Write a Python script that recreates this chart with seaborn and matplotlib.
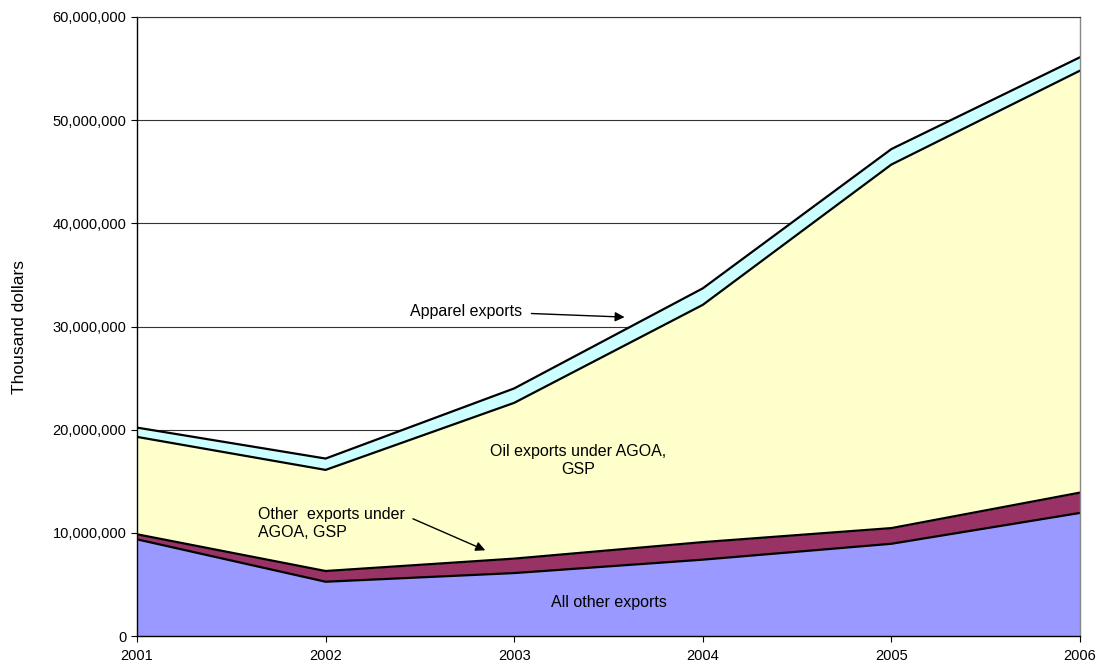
import numpy as np
import pandas as pd
import matplotlib
matplotlib.use("Agg")
import matplotlib.pyplot as plt
import seaborn as sns
from matplotlib.ticker import FuncFormatter

# data (thousand dollars)
years = [2001, 2002, 2003, 2004, 2005, 2006]
all_other = [9370000, 5260000, 6100000, 7400000, 8940000, 11930000]
other_agoa = [490000, 1040000, 1400000, 1700000, 1520000, 1970000]
oil_agoa = [9440000, 9800000, 15100000, 23000000, 35240000, 40900000]
apparel = [900000, 1100000, 1400000, 1600000, 1500000, 1300000]

series_names = ["All other exports", "Other exports under AGOA, GSP",
                "Oil exports under AGOA, GSP", "Apparel exports"]
colors = ["#9999FF", "#993366", "#FFFFCC", "#CCFFFF"]

sns.set_theme(style="white")
plt.rcParams["font.family"] = ["Liberation Sans", "DejaVu Sans"]
plt.rcParams["text.color"] = "black"
plt.rcParams["axes.labelcolor"] = "black"

df = pd.DataFrame({"year": years, series_names[0]: all_other, series_names[1]: other_agoa,
                   series_names[2]: oil_agoa, series_names[3]: apparel})
cum = df[series_names].cumsum(axis=1)

fig = plt.figure(figsize=(11.01, 6.69), dpi=100)
ax = fig.add_axes([137 / 1101, 1 - 636 / 669, (1080 - 137) / 1101, (636 - 17) / 669])

# grid behind the areas
for v in range(10000000, 60000001, 10000000):
    ax.axhline(v, color="#333333", lw=0.8, zorder=0)

lower = np.zeros(len(years))
for name, c in zip(series_names, colors):
    upper = cum[name].values
    ax.fill_between(years, lower, upper, color=c, lw=0, zorder=1)
    lower = upper

long = cum.assign(year=years).melt(id_vars="year", var_name="series", value_name="top")
sns.lineplot(data=long, x="year", y="top", units="series", estimator=None,
             color="black", lw=1.6, ax=ax, zorder=2, legend=False)

ax.set_xlim(2001, 2006)
ax.set_ylim(0, 60000000)
ax.set_xticks(years)
ax.set_yticks(range(0, 60000001, 10000000))
ax.yaxis.set_major_formatter(FuncFormatter(lambda v, p: f"{int(v):,}"))
ax.tick_params(axis="both", labelsize=10.5, colors="black", length=4, width=0.8,
               direction="out", left=True, bottom=True)
ax.tick_params(axis="x", pad=5)
ax.set_xlabel("")
ax.set_ylabel("Thousand dollars", fontsize=12.5)
ax.yaxis.set_label_coords(-0.117, 0.5)

for s in ["left", "bottom"]:
    ax.spines[s].set_color("black")
    ax.spines[s].set_linewidth(1)
ax.spines["right"].set_color("#888888")
ax.spines["right"].set_linewidth(1)
ax.spines["top"].set_color("#333333")
ax.spines["top"].set_linewidth(0.8)
for sp in ax.spines.values():
    sp.set_zorder(3)

fs = 11.5
ax.annotate("Apparel exports", xy=(2003.6, 30900000), xytext=(2002.45, 31500000),
            fontsize=fs, ha="left", va="center",
            arrowprops=dict(arrowstyle="-|>", color="black", lw=1, mutation_scale=14, shrinkA=4))
ax.annotate("Other  exports under\nAGOA, GSP", xy=(2002.86, 8200000), xytext=(2001.64, 10900000),
            fontsize=fs, ha="left", va="center", linespacing=1.3,
            arrowprops=dict(arrowstyle="-|>", color="black", lw=1, mutation_scale=14,
                            shrinkA=4, relpos=(1.0, 0.75)))
ax.text(2003.34, 17000000, "Oil exports under AGOA,\nGSP", fontsize=fs, ha="center",
        va="center", linespacing=1.3)
ax.text(2003.5, 3200000, "All other exports", fontsize=fs, ha="center", va="center")

fig.savefig("out.png", dpi=100)
